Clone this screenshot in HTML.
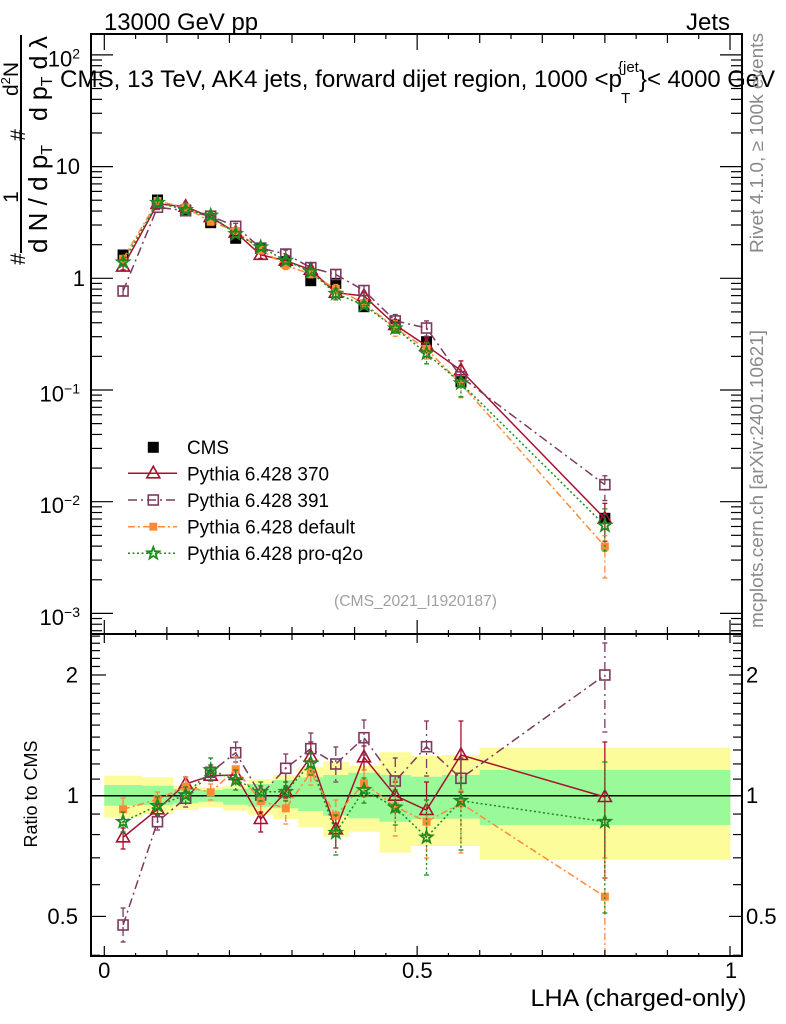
<!DOCTYPE html>
<html><head><meta charset="utf-8">
<style>
html,body{margin:0;padding:0;background:#fff;}
svg{display:block;}
text{font-family:"Liberation Sans",Arial,sans-serif;fill:#000;}
</style></head>
<body>
<svg id="s" width="786" height="1024" viewBox="0 0 786 1024" xmlns="http://www.w3.org/2000/svg">
<defs>
<clipPath id="cm"><rect x="91" y="34" width="651" height="600"/></clipPath>
<clipPath id="cr"><rect x="91" y="634" width="651" height="322"/></clipPath>
</defs>
<rect x="0" y="0" width="786" height="1024" fill="#fff"/>
<g id="bands" clip-path="url(#cr)"></g>
<g id="mainser" clip-path="url(#cm)"></g>
<g id="ratser" clip-path="url(#cr)"></g>
<g id="ticks" stroke="#000" stroke-width="1.2"></g>
<g id="leg"></g>
<rect x="91" y="34" width="651" height="600" fill="none" stroke="#000" stroke-width="2"/>
<rect x="91" y="634" width="651" height="322" fill="none" stroke="#000" stroke-width="2"/>

<!-- header -->
<text x="104" y="30" font-size="24" textLength="154" lengthAdjust="spacingAndGlyphs">13000 GeV pp</text>
<text x="730" y="30" font-size="24" text-anchor="end">Jets</text>

<!-- title -->
<text x="60" y="87" font-size="24" textLength="562" lengthAdjust="spacingAndGlyphs">CMS, 13 TeV, AK4 jets, forward dijet region, 1000 &lt;p</text>
<text x="618" y="72" font-size="15">{jet</text>
<text x="621" y="103" font-size="15">T</text>
<text x="639" y="87" font-size="24" textLength="136" lengthAdjust="spacingAndGlyphs">}&lt; 4000 GeV</text>

<!-- y label main -->
<text transform="translate(25,259) rotate(-90)" font-size="21" text-anchor="middle">#</text>
<text transform="translate(18,197) rotate(-90)" font-size="21" text-anchor="middle">1</text>
<text transform="translate(25,135) rotate(-90)" font-size="21" text-anchor="middle">#</text>
<text transform="translate(18,96) rotate(-90)" font-size="21">d<tspan dy="-8" font-size="13">2</tspan><tspan dy="8">N</tspan></text>
<rect x="20" y="35" width="2" height="218" fill="#000"/>
<text transform="translate(47,253) rotate(-90)" font-size="26">d N / d p<tspan dy="5" font-size="16">T</tspan></text>
<text transform="translate(47,121) rotate(-90)" font-size="25">d p<tspan dy="5" font-size="16">T</tspan><tspan dy="-5"> d λ</tspan></text>

<!-- main y tick labels -->
<text x="80" y="66.5" font-size="22" text-anchor="end">10<tspan dy="-8" font-size="14">2</tspan></text>
<text x="80" y="174" font-size="22" text-anchor="end">10</text>
<text x="85" y="286" font-size="22" text-anchor="end">1</text>
<text x="80" y="401.5" font-size="22" text-anchor="end">10<tspan dy="-8" font-size="14">−1</tspan></text>
<text x="80" y="513" font-size="22" text-anchor="end">10<tspan dy="-8" font-size="14">−2</tspan></text>
<text x="80" y="625" font-size="22" text-anchor="end">10<tspan dy="-8" font-size="14">−3</tspan></text>

<!-- ratio labels -->
<text x="78" y="682.5" font-size="22" text-anchor="end">2</text>
<text x="79" y="803" font-size="22" text-anchor="end">1</text>
<text x="78" y="924" font-size="22" text-anchor="end">0.5</text>
<text x="746" y="682.5" font-size="22">2</text>
<text x="746" y="803" font-size="22">1</text>
<text x="746" y="924" font-size="22">0.5</text>
<text transform="translate(37,794) rotate(-90)" font-size="18" text-anchor="middle">Ratio to CMS</text>

<!-- x labels -->
<text x="104.3" y="978" font-size="22" text-anchor="middle">0</text>
<text x="417.3" y="978" font-size="22" text-anchor="middle">0.5</text>
<text x="731" y="978" font-size="22" text-anchor="middle">1</text>
<text x="746.5" y="1006" font-size="24" text-anchor="end" textLength="216" lengthAdjust="spacingAndGlyphs">LHA (charged-only)</text>

<!-- side texts -->
<text transform="translate(763,253) rotate(-90)" font-size="18" style="fill:#8a8a8a" textLength="220" lengthAdjust="spacingAndGlyphs">Rivet 4.1.0, ≥ 100k events</text>
<text transform="translate(763,628) rotate(-90)" font-size="18" style="fill:#8a8a8a" textLength="298" lengthAdjust="spacingAndGlyphs">mcplots.cern.ch [arXiv:2401.10621]</text>

<!-- analysis tag -->
<text x="334" y="606" font-size="16" style="fill:#a0a0a0" textLength="163" lengthAdjust="spacingAndGlyphs">(CMS_2021_I1920187)</text>

<!-- legend text -->
<text x="187" y="454" font-size="19" textLength="42" lengthAdjust="spacingAndGlyphs">CMS</text>
<text x="187" y="480.5" font-size="19" textLength="142" lengthAdjust="spacingAndGlyphs">Pythia 6.428 370</text>
<text x="187" y="507" font-size="19" textLength="142" lengthAdjust="spacingAndGlyphs">Pythia 6.428 391</text>
<text x="187" y="533.5" font-size="19" textLength="168" lengthAdjust="spacingAndGlyphs">Pythia 6.428 default</text>
<text x="187" y="560" font-size="19" textLength="176" lengthAdjust="spacingAndGlyphs">Pythia 6.428 pro-q2o</text>
</svg>

<script>
(function(){
const NS="http://www.w3.org/2000/svg";
function el(p,t,a){const e=document.createElementNS(NS,t);for(const k in a)e.setAttribute(k,a[k]);p.appendChild(e);return e;}
const X=v=>104.3+625.7*v;
const ed=[0,0.06,0.11,0.15,0.19,0.23,0.27,0.31,0.35,0.39,0.44,0.49,0.54,0.6,1.0];
const xc=[];for(let i=0;i<14;i++)xc.push(X((ed[i]+ed[i+1])/2));
const cms=[255,200,210,222.7,238.3,248.3,261.7,280.7,283.3,306.7,325,341.7,381.7,518.3];
const K=0.2786,R1=795.7;
const M=(i,ry)=>cms[i]-K*(R1-ry);

// bands
const yel=[[775.7,817.3],[777.3,814],[785.7,810],[787.3,807.3],[785.7,810.7],[779.3,814.7],[775,819],[767.3,827.3],[761.7,836.7],[766,831.7],[752.3,852.7],[756,846],[755,846],[747.7,859.7]];
const grn=[[785,805.7],[785.7,805],[789,803.3],[790,801.7],[788.7,804.7],[784,806.7],[780,808.3],[777.3,811],[775,815.7],[772.7,818.3],[775,821.7],[776.7,819],[775,818.7],[770,825]];
const gb=document.getElementById('bands');
yel.forEach((b,i)=>el(gb,'rect',{x:X(ed[i]),y:b[0],width:X(ed[i+1])-X(ed[i])+0.4,height:b[1]-b[0],fill:'#fcfc9a'}));
grn.forEach((b,i)=>el(gb,'rect',{x:X(ed[i]),y:b[0],width:X(ed[i+1])-X(ed[i])+0.4,height:b[1]-b[0],fill:'#9afa9a'}));
el(gb,'line',{x1:91,y1:R1,x2:742,y2:R1,stroke:'#000','stroke-width':1.5});

function mk(g,type,x,y,c){
 if(type==='csq') el(g,'rect',{x:x-5.5,y:y-5.5,width:11,height:11,fill:'#000'});
 else if(type==='tri') el(g,'polygon',{points:`${x},${y-7} ${x-6.5},${y+4.5} ${x+6.5},${y+4.5}`,fill:'none',stroke:c,'stroke-width':1.6});
 else if(type==='osq') el(g,'rect',{x:x-5,y:y-5,width:10,height:10,fill:'none',stroke:c,'stroke-width':1.6});
 else if(type==='fsq') el(g,'rect',{x:x-4,y:y-4,width:8,height:8,fill:c});
 else if(type==='star'){const p=[];for(let k=0;k<10;k++){const r=k%2?2.6:6.3;const a=-Math.PI/2+k*Math.PI/5;p.push((x+r*Math.cos(a)).toFixed(1)+','+(y+r*Math.sin(a)).toFixed(1));}
   el(g,'polygon',{points:p.join(' '),fill:'none',stroke:c,'stroke-width':1.8});}
}

const S=[
 {c:'#a8102e',d:'none',m:'tri',
  r:[837.3,809.3,784,775.7,775,819,792,756.7,829.3,757.3,795.7,810,755,797],
  e:[[828,849],[802,816],[777,792],[770,781],[769,781],[812,832],[786,798],[742,770],[818,848],[746,770],[782,812],[782,835],[721,792],[742,878]]},
 {c:'#7b3a5e',d:'9,4,2,4',m:'osq',
  r:[925,821.7,798.3,772.3,752.7,795,768.3,748.7,764,737.7,781,746.7,778.3,675],
  e:[[908,942],[814,830],[790,807],[765,780],[742,762],[786,804],[754,782],[733,762],[747,782],[720,755],[758,805],[721,776],[758,800],[643,732]]},
 {c:'#ff8a35',d:'7,3,2,3',m:'fsq',
  r:[809.3,799.3,786.7,792.3,769.3,801,808.3,772.3,815.7,783.3,806.7,821.7,803.3,896.7],
  e:[[798,822],[792,806],[777,796],[784,800],[757,782],[789,815],[800,824],[760,785],[800,832],[770,797],[780,836],[800,858],[790,853],[858,1010]]},
 {c:'#1c8c1c',d:'2,2.5',m:'star',
  r:[821.7,805.7,795,770,780,791.7,791.7,763.3,832.7,790,807.3,837.3,800.7,821.7],
  e:[[812,832],[797,815],[787,803],[758,780],[770,790],[782,801],[782,801],[752,775],[815,855],[778,803],[790,825],[800,875],[783,850],[762,913]]}
];

function drawSeries(g,s,ys,errs){
 ys.forEach((y,i)=>{const a=errs[i][0],b=errs[i][1],x=xc[i];
  el(g,'line',{x1:x,y1:a,x2:x,y2:b,stroke:s.c,'stroke-width':1.3,'stroke-dasharray':s.d});
  el(g,'line',{x1:x-2.5,y1:a,x2:x+2.5,y2:a,stroke:s.c,'stroke-width':1.3});
  el(g,'line',{x1:x-2.5,y1:b,x2:x+2.5,y2:b,stroke:s.c,'stroke-width':1.3});
 });
 el(g,'polyline',{points:ys.map((y,i)=>xc[i].toFixed(1)+','+y.toFixed(1)).join(' '),fill:'none',stroke:s.c,'stroke-width':1.5,'stroke-dasharray':s.d});
 ys.forEach((y,i)=>mk(g,s.m,xc[i],y,s.c));
}

const gm=document.getElementById('mainser');
cms.forEach((y,i)=>mk(gm,'csq',xc[i],y,'#000'));
S.forEach(s=>drawSeries(gm,s,s.r.map((r,i)=>M(i,r)),s.e.map((e,i)=>[M(i,e[0]),M(i,e[1])])));
const gr=document.getElementById('ratser');
S.forEach(s=>drawSeries(gr,s,s.r,s.e));

// ticks
const gt=document.getElementById('ticks');
const L=(x1,y1,x2,y2)=>el(gt,'line',{x1:x1,y1:y1,x2:x2,y2:y2});
for(let k=0;k<=20;k++){
 const x=X(k*0.05);
 const maj=k%10===0, med=k%2===0;
 L(x,34,x,34+(maj?16:med?9:5));
 L(x,634,x,634-(maj?14:med?7:4));
 L(x,634,x,634+(maj?9:med?6:3));
 L(x,956,x,956-(maj?10:med?6:3));
}
for(let e=-4;e<=2;e++){for(let m=1;m<=9;m++){
 const y=278.3-111.7*Math.log10(m*Math.pow(10,e));
 if(y<35||y>633)continue;
 const len=m===1?22:11;
 L(91,y,91+len,y);L(742-len,y,742,y);
}}
for(let k=4;k<=25;k++){
 const v=k/10;const y=795.7-401*Math.log10(v);
 if(y<635||y>956)continue;
 const maj=(k===5||k===10||k===20);
 L(91,y,91+(maj?15:9),y);L(742-(maj?13:9),y,742,y);
}

// legend
const gl=document.getElementById('leg');
mk(gl,'csq',153.3,447.3,'#000');
const ly=[473.3,500,526.7,553.3];
S.forEach((s,i)=>{
 el(gl,'line',{x1:128,y1:ly[i],x2:177,y2:ly[i],stroke:s.c,'stroke-width':1.5,'stroke-dasharray':s.d});
 mk(gl,s.m,153.3,ly[i],s.c);
});
})();
</script>
</body></html>
